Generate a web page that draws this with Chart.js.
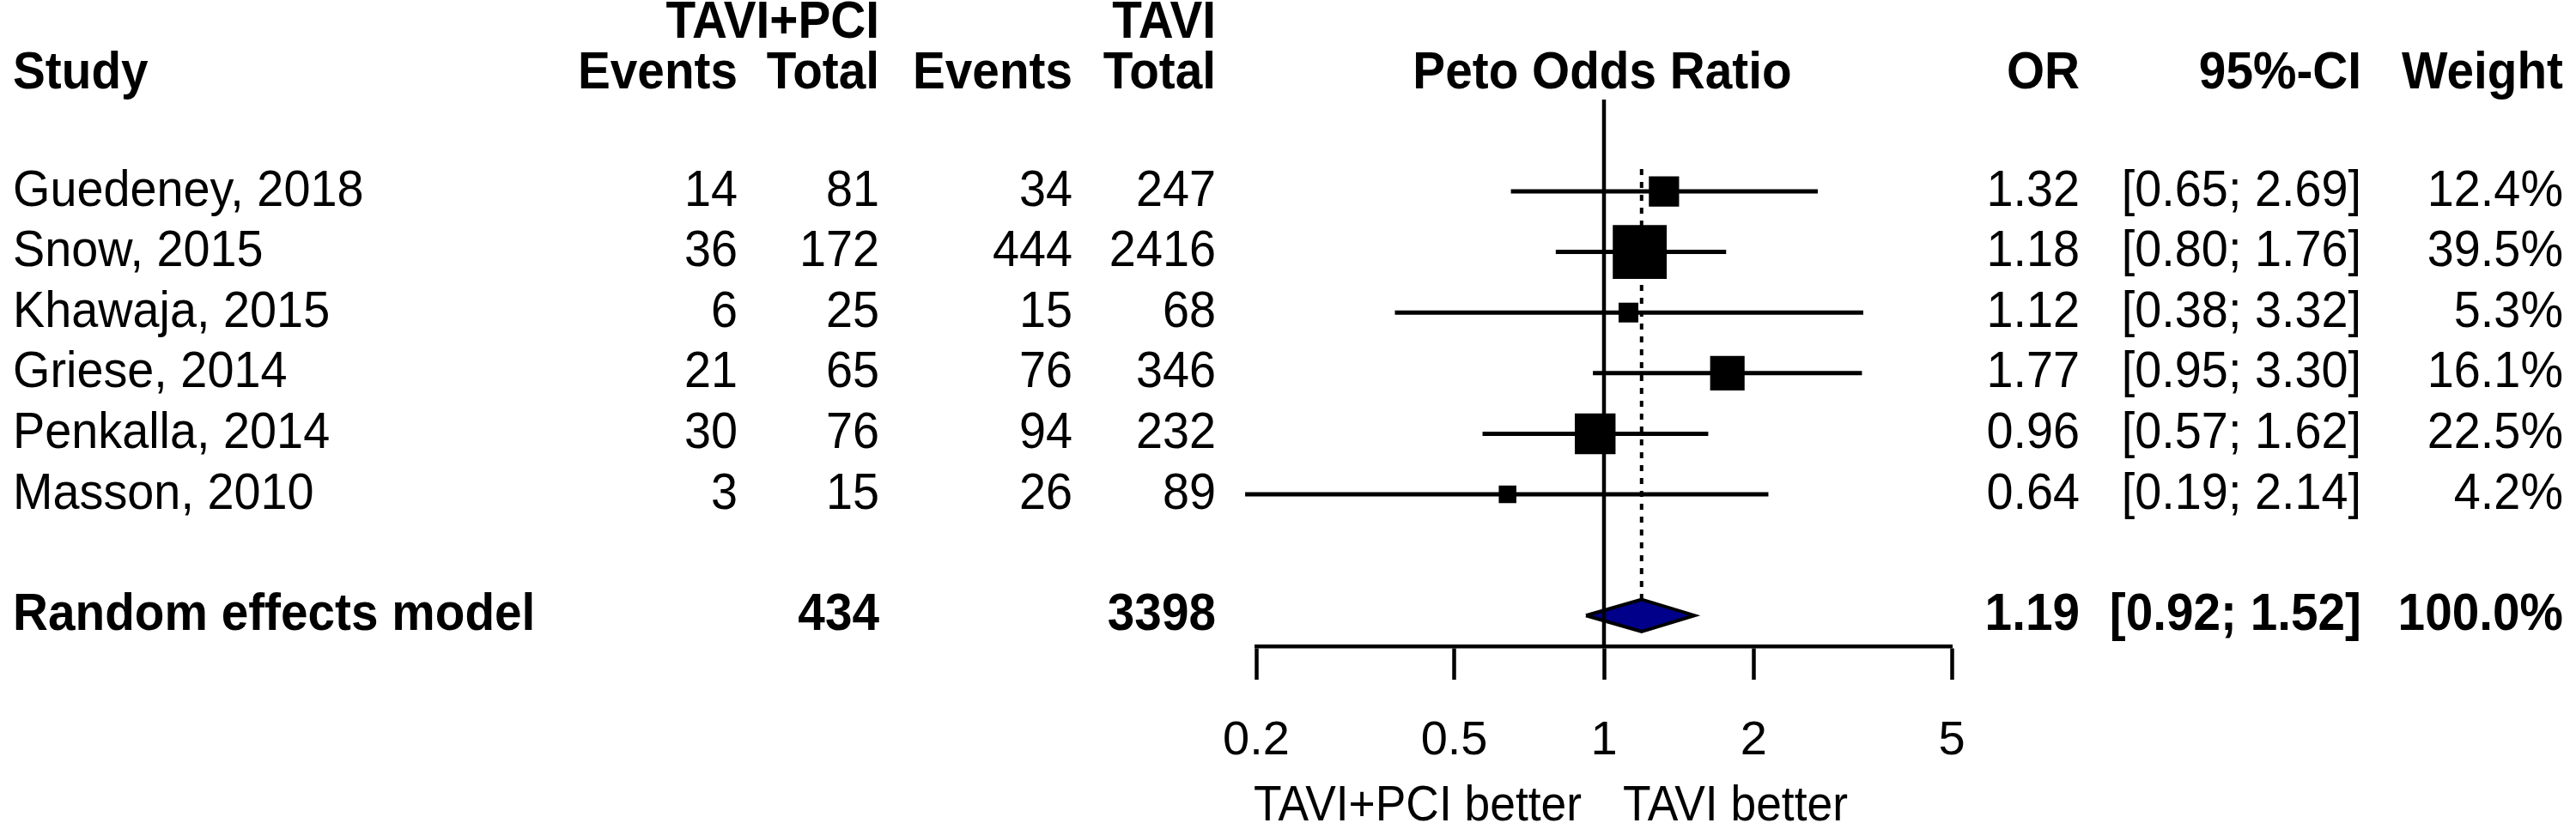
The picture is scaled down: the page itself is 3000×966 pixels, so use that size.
<!DOCTYPE html>
<html>
<head>
<meta charset="utf-8">
<script src="https://cdn.jsdelivr.net/npm/chart.js@4.4.0/dist/chart.umd.min.js"></script>
<style>
html, body { margin: 0; padding: 0; background: #fff; }
canvas { display: block; }
</style>
</head>
<body>
<canvas id="forest" width="3000" height="966"></canvas>
<script>
// study data
var studies = ['Guedeney, 2018', 'Snow, 2015', 'Khawaja, 2015', 'Griese, 2014', 'Penkalla, 2014', 'Masson, 2010'];
var eventsE = [14, 36, 6, 21, 30, 3];
var totalE = [81, 172, 25, 65, 76, 15];
var eventsC = [34, 444, 15, 76, 94, 26];
var totalC = [247, 2416, 68, 346, 232, 89];
var oddsRatio = [1.32, 1.18, 1.12, 1.77, 0.96, 0.64];
var ciLow = [0.65, 0.80, 0.38, 0.95, 0.57, 0.19];
var ciHigh = [2.69, 1.76, 3.32, 3.30, 1.62, 2.14];
var weights = [12.4, 39.5, 5.3, 16.1, 22.5, 4.2];

// pooled (random effects)
var pooledLabel = 'Random effects model';
var pooledTotals = [434, 3398];
var pooledOR = 1.19;
var pooledLow = 0.92;
var pooledHigh = 1.52;
var pooledWeight = 100.0;

var tickValues = [0.2, 0.5, 1, 2, 5];

var pooledRow = 7;
var yTop = -1.516, yBottom = 7.507;
var diamondHalf = 0.265;

var font = "'Liberation Sans', Arial, sans-serif";
var squeeze = 0.93;   // text is a bit narrower than plain Arial

var ciLines = [];
for (var i = 0; i < studies.length; i++) {
    ciLines.push({x: ciLow[i], y: i}, {x: ciHigh[i], y: i}, {x: NaN, y: NaN});
}
var squares = oddsRatio.map(function(v, i) { return {x: v, y: i}; });
var diamond = [
    {x: pooledLow, y: pooledRow},
    {x: pooledOR, y: pooledRow - diamondHalf},
    {x: pooledHigh, y: pooledRow},
    {x: pooledOR, y: pooledRow + diamondHalf},
    {x: pooledLow, y: pooledRow}
];

var tablePlugin = {
    id: 'forestTable',
    afterDraw: function(chart) {
        var ctx = chart.ctx;
        var ys = chart.scales.y;
        var area = chart.chartArea;
        ctx.fillStyle = '#000';
        ctx.textBaseline = 'middle';
        function txt(s, x, py, align, bold, size, sx) {
            sx = sx || squeeze;
            ctx.save();
            ctx.scale(sx, 1);
            ctx.font = (bold ? 'bold ' : '') + (size || (bold ? 61 : 60)) + 'px ' + font;
            ctx.textAlign = align;
            ctx.fillText(s, x / sx, py);
            ctx.restore();
        }
        // headers
        var h1 = ys.getPixelForValue(-2.78), h2 = ys.getPixelForValue(-1.94);
        txt('TAVI+PCI', 1024, h1, 'right', true);
        txt('TAVI', 1416, h1, 'right', true);
        txt('Study', 15, h2, 'left', true);
        txt('Events', 859, h2, 'right', true);
        txt('Total', 1024, h2, 'right', true);
        txt('Events', 1249, h2, 'right', true);
        txt('Total', 1416, h2, 'right', true);
        txt('Peto Odds Ratio', 1866, h2, 'center', true);
        txt('OR', 2422, h2, 'right', true);
        txt('95%-CI', 2750, h2, 'right', true);
        txt('Weight', 2985, h2, 'right', true);

        for (var i = 0; i < studies.length; i++) {
            var py = ys.getPixelForValue(i);
            txt(studies[i], 15, py, 'left', false);
            txt(String(eventsE[i]), 859, py, 'right', false);
            txt(String(totalE[i]), 1024, py, 'right', false);
            txt(String(eventsC[i]), 1249, py, 'right', false);
            txt(String(totalC[i]), 1416, py, 'right', false);
            txt(oddsRatio[i].toFixed(2), 2422, py, 'right', false);
            txt('[' + ciLow[i].toFixed(2) + '; ' + ciHigh[i].toFixed(2) + ']', 2750, py, 'right', false);
            txt(weights[i].toFixed(1) + '%', 2985, py, 'right', false);
        }

        var pp = ys.getPixelForValue(pooledRow);
        txt(pooledLabel, 15, pp, 'left', true);
        txt(String(pooledTotals[0]), 1024, pp, 'right', true);
        txt(String(pooledTotals[1]), 1416, pp, 'right', true);
        txt(pooledOR.toFixed(2), 2422, pp, 'right', true);
        txt('[' + pooledLow.toFixed(2) + '; ' + pooledHigh.toFixed(2) + ']', 2750, pp, 'right', true);
        txt(pooledWeight.toFixed(1) + '%', 2985, pp, 'right', true);

        // direction labels under the axis
        var xs = chart.scales.x;
        var x1 = xs.getPixelForValue(1);
        var dl = area.bottom + 187;
        txt('TAVI+PCI better', x1 - 26, dl, 'right', false, 58, 0.92);
        txt('TAVI better', x1 + 22, dl, 'left', false, 58, 0.92);
    }
};

var ctx = document.getElementById('forest').getContext('2d');
var forestChart = new Chart(ctx, {
    type: 'scatter',
    data: {
        datasets: [
            {
                // line of no effect
                data: [{x: 1, y: yTop}, {x: 1, y: yBottom}],
                showLine: true, borderColor: '#000', borderWidth: 4.5,
                pointRadius: 0, order: 0, clip: false
            },
            {
                data: squares,
                pointStyle: 'rect',
                pointRadius: function(c) { return 10 * Math.sqrt(weights[c.dataIndex]) / (2 * Math.SQRT1_2); },
                backgroundColor: '#000', borderWidth: 0, order: 1, clip: false
            },
            {
                data: ciLines,
                showLine: true, spanGaps: false, borderColor: '#000', borderWidth: 5,
                pointRadius: 0, order: 2, clip: false
            },
            {
                data: diamond,
                showLine: true, fill: 'shape', backgroundColor: '#00008B',
                borderColor: '#000', borderWidth: 4, pointRadius: 0, order: 3, clip: false
            },
            {
                // pooled estimate
                data: [{x: pooledOR, y: -0.37}, {x: pooledOR, y: pooledRow - diamondHalf}],
                showLine: true, borderColor: '#000', borderWidth: 4, borderDash: [7, 8],
                pointRadius: 0, order: 4, clip: false
            }
        ]
    },
    options: {
        responsive: false,
        devicePixelRatio: 1,
        animation: false,
        events: [],
        layout: { padding: { left: 1463, right: 727, top: 116, bottom: 0 } },
        plugins: { legend: { display: false }, tooltip: { enabled: false } },
        scales: {
            x: {
                type: 'logarithmic',
                position: 'bottom',
                min: 0.2,
                max: 5,
                afterBuildTicks: function(scale) {
                    scale.ticks = tickValues.map(function(v) { return {value: v}; });
                },
                afterFit: function(scale) { scale.height = 213; },
                ticks: {
                    autoSkip: false,
                    maxRotation: 0,
                    padding: 38,
                    color: '#000',
                    font: { family: font, size: 56 },
                    callback: function(v) { return String(v); }
                },
                grid: {
                    drawOnChartArea: false,
                    drawTicks: true,
                    tickLength: 39,
                    tickWidth: 4.5,
                    tickColor: '#000'
                },
                border: { display: true, color: '#000', width: 4.5 }
            },
            y: {
                type: 'linear',
                reverse: true,
                min: yTop,
                max: yBottom,
                display: false
            }
        }
    },
    plugins: [tablePlugin]
});
</script>
</body>
</html>
